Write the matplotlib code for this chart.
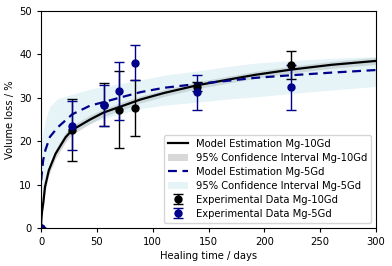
import matplotlib
matplotlib.use('Agg')
import matplotlib.pyplot as plt

# model curves
t_10gd = [0, 0.3, 1, 2, 3.6, 7, 13, 22, 28, 44, 56, 77, 89, 110, 140, 170, 192, 224, 260, 300]
model_10gd = [0, 2.0, 4.0, 5.7, 9.5, 13.3, 17.1, 20.9, 22.6, 25.0, 26.6, 28.5, 29.6, 31.1, 32.9,
              34.3, 35.3, 36.5, 37.6, 38.5]
ci_10gd_lo = [0, 1.2, 3.0, 4.6, 8.4, 12.2, 16.0, 19.8, 21.6, 24.0, 25.7, 27.6, 28.8, 30.3, 32.1,
              33.5, 34.5, 35.7, 36.8, 37.7]
ci_10gd_hi = [0, 2.8, 5.0, 6.8, 10.6, 14.4, 18.2, 22.0, 23.6, 26.0, 27.5, 29.4, 30.4, 31.9, 33.7,
              35.1, 36.1, 37.3, 38.4, 39.3]

t_5gd = [0.2, 1, 2, 4, 8, 15, 28, 44, 56, 70, 89, 110, 140, 170, 192, 224, 260, 300]
model_5gd = [11.0, 13.4, 15.7, 18.0, 21.0, 23.2, 26.2, 28.2, 29.0, 30.0, 31.3, 32.3, 33.2, 34.0,
             34.6, 35.2, 35.8, 36.4]
ci_5gd_lo = [3.0, 7.0, 8.8, 12.0, 16.0, 19.0, 22.2, 24.2, 25.2, 26.2, 27.5, 28.3, 29.0, 29.8,
             30.2, 31.0, 31.8, 32.6]
ci_5gd_hi = [19.0, 21.0, 22.5, 25.0, 28.0, 29.8, 30.8, 32.0, 32.6, 33.2, 34.1, 35.2, 36.2, 37.3,
             38.0, 38.6, 39.1, 39.5]

# experimental data
days = [0, 28, 56, 70, 84, 140, 224]
exp_10gd = [0, 22.6, 28.4, 27.3, 27.6, 32.6, 37.6]
err_10gd = [0, 7.1, 5.0, 8.9, 6.4, 1.0, 3.3]
exp_5gd = [0, 23.6, 28.3, 31.6, 38.1, 31.3, 32.4]
err_5gd = [0, 5.7, 4.7, 6.6, 4.1, 4.0, 5.2]

fs = 7.2

fig = plt.figure(figsize=(3.92, 2.66), dpi=100)
ax = fig.add_axes([0.1046, 0.1429, 0.8546, 0.8157])

ax.plot(t_10gd, model_10gd, color='black', lw=1.6, label='Model Estimation Mg-10Gd')
ax.fill_between(t_10gd, ci_10gd_lo, ci_10gd_hi, color='gray', alpha=0.3, lw=0,
                label='95% Confidence Interval Mg-10Gd')
ax.plot(t_5gd, model_5gd, color='darkblue', lw=1.6, ls=(0, (4, 2.5)),
        label='Model Estimation Mg-5Gd')
ax.fill_between(t_5gd, ci_5gd_lo, ci_5gd_hi, color='lightblue', alpha=0.3, lw=0,
                label='95% Confidence Interval Mg-5Gd')
ax.errorbar(days, exp_10gd, yerr=err_10gd, fmt='o', color='black', ms=5, capsize=3.6,
            elinewidth=1, label='Experimental Data Mg-10Gd')
ax.errorbar(days, exp_5gd, yerr=err_5gd, fmt='o', color='darkblue', ms=5, capsize=3.6,
            elinewidth=1, label='Experimental Data Mg-5Gd')

ax.set_xlim(0, 300)
ax.set_ylim(0, 50)
ax.set_xticks([0, 50, 100, 150, 200, 250, 300])
ax.set_yticks([0, 10, 20, 30, 40, 50])
ax.tick_params(labelsize=fs, length=3)
ax.set_xlabel('Healing time / days', fontsize=fs, labelpad=3)
ax.set_ylabel('Volume loss / %', fontsize=fs, labelpad=3)

ax.legend(loc='lower right', fontsize=fs, handlelength=2.0, borderpad=0.4,
          labelspacing=0.4)

fig.savefig('out.png', dpi=100)
